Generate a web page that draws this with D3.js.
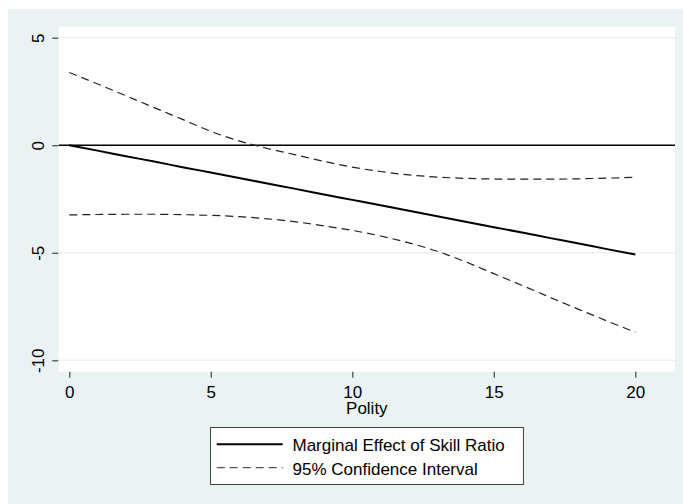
<!DOCTYPE html>
<html>
<head>
<meta charset="utf-8">
<script src="https://cdn.jsdelivr.net/npm/d3@7"></script>
<style>
  html, body { margin: 0; padding: 0; background: #ffffff; }
  svg { display: block; }
  text { font-family: Arial, "Liberation Sans", sans-serif; fill: #000; }
</style>
</head>
<body>
<svg id="chart" width="683" height="504"></svg>
<script>
// ---- data ----
const polity = [0,1,2,3,4,5,6,7,8,9,10,11,12,13,14,15,16,17,18,19,20];
const marginalEffect = [0,-0.25,-0.51,-0.76,-1.02,-1.27,-1.52,-1.78,-2.03,-2.29,-2.54,-2.79,-3.05,-3.30,-3.56,-3.81,-4.06,-4.32,-4.57,-4.83,-5.08];
const upperCI = [3.38,2.85,2.30,1.75,1.20,0.65,0.20,-0.15,-0.45,-0.75,-1.02,-1.22,-1.38,-1.48,-1.54,-1.57,-1.58,-1.58,-1.56,-1.53,-1.49];
const lowerCI = [-3.24,-3.22,-3.21,-3.21,-3.23,-3.26,-3.32,-3.42,-3.56,-3.75,-3.96,-4.22,-4.54,-4.93,-5.42,-5.97,-6.52,-7.08,-7.63,-8.17,-8.70];
const xTicks = [0,5,10,15,20];
const yTicks = [-10,-5,0,5];
const xLabel = "Polity";
const legendLabels = ["Marginal Effect of Skill Ratio", "95% Confidence Interval"];

// ---- layout ----
const svg = d3.select("#chart");
const bg = "#eaf2f3";
svg.append("rect").attr("x", 8).attr("y", 9).attr("width", 675).attr("height", 495).attr("fill", bg);

const x = d3.scaleLinear().domain([0, 20]).range([69.3, 635.3]);
const y = d3.scaleLinear().domain([-10, 5]).range([360.3, 37.7]);
const plotL = 58.7, plotR = 675, plotT = 26.7, plotB = 371.7;

svg.append("rect").attr("x", plotL).attr("y", plotT)
  .attr("width", plotR - plotL).attr("height", plotB - plotT).attr("fill", "#ffffff");

// gridlines
svg.append("g").selectAll("line").data(yTicks).join("line")
  .attr("x1", plotL).attr("x2", plotR)
  .attr("y1", d => y(d)).attr("y2", d => y(d))
  .attr("stroke", bg).attr("stroke-width", 1.5);

// y axis
const yAxis = d3.axisLeft(y).tickValues(yTicks).tickSize(6).tickPadding(8).tickFormat(d => String(d));
const gy = svg.append("g").attr("transform", `translate(${plotL - 0.5},0)`).call(yAxis);
gy.select(".domain").remove();
gy.selectAll(".tick line").attr("stroke", "#444").attr("stroke-width", 1.2);
gy.selectAll(".tick text")
  .attr("font-size", 17)
  .attr("font-family", "Arial, 'Liberation Sans', sans-serif")
  .attr("fill", "#000")
  .attr("x", null).attr("dy", null)
  .attr("text-anchor", "middle")
  .attr("transform", "translate(-14.5,0) rotate(-90)")
  .attr("y", 0);

// x axis
const xAxis = d3.axisBottom(x).tickValues(xTicks).tickSize(6).tickPadding(8).tickFormat(d => String(d));
const gx = svg.append("g").attr("transform", `translate(0,${plotB})`).call(xAxis);
gx.select(".domain").remove();
gx.selectAll(".tick line").attr("stroke", "#444").attr("stroke-width", 1.2);
gx.selectAll(".tick text")
  .attr("font-size", 17)
  .attr("font-family", "Arial, 'Liberation Sans', sans-serif")
  .attr("fill", "#000")
  .attr("dy", null).attr("y", 26.5);

svg.append("text").attr("x", (plotL + plotR) / 2).attr("y", 414)
  .attr("text-anchor", "middle").attr("font-size", 17).text(xLabel);

// zero reference line
svg.append("line").attr("x1", plotL).attr("x2", plotR)
  .attr("y1", y(0)).attr("y2", y(0))
  .attr("stroke", "#000").attr("stroke-width", 1.6);

// lines
const line = vals => d3.line().curve(d3.curveMonotoneX).x((d, i) => x(polity[i])).y(d => y(d))(vals);
svg.append("path").attr("d", line(upperCI)).attr("fill", "none")
  .attr("stroke", "#222").attr("stroke-width", 1.2).attr("stroke-dasharray", "8,5");
svg.append("path").attr("d", line(lowerCI)).attr("fill", "none")
  .attr("stroke", "#222").attr("stroke-width", 1.2).attr("stroke-dasharray", "8,5");
svg.append("path").attr("d", line(marginalEffect)).attr("fill", "none")
  .attr("stroke", "#000").attr("stroke-width", 2);

// legend
const lg = svg.append("g");
lg.append("rect").attr("x", 210.5).attr("y", 427.5).attr("width", 313).attr("height", 57)
  .attr("fill", "#fff").attr("stroke", "#444").attr("stroke-width", 1);
lg.append("line").attr("x1", 216.7).attr("x2", 282.7).attr("y1", 444.3).attr("y2", 444.3)
  .attr("stroke", "#000").attr("stroke-width", 2);
lg.append("line").attr("x1", 216.7).attr("x2", 282.7).attr("y1", 467.7).attr("y2", 467.7)
  .attr("stroke", "#555").attr("stroke-width", 1.2).attr("stroke-dasharray", "8,5");
lg.append("text").attr("x", 292.5).attr("y", 451).attr("font-size", 17).text(legendLabels[0]);
lg.append("text").attr("x", 292.5).attr("y", 474.5).attr("font-size", 17).text(legendLabels[1]);
</script>
</body>
</html>
